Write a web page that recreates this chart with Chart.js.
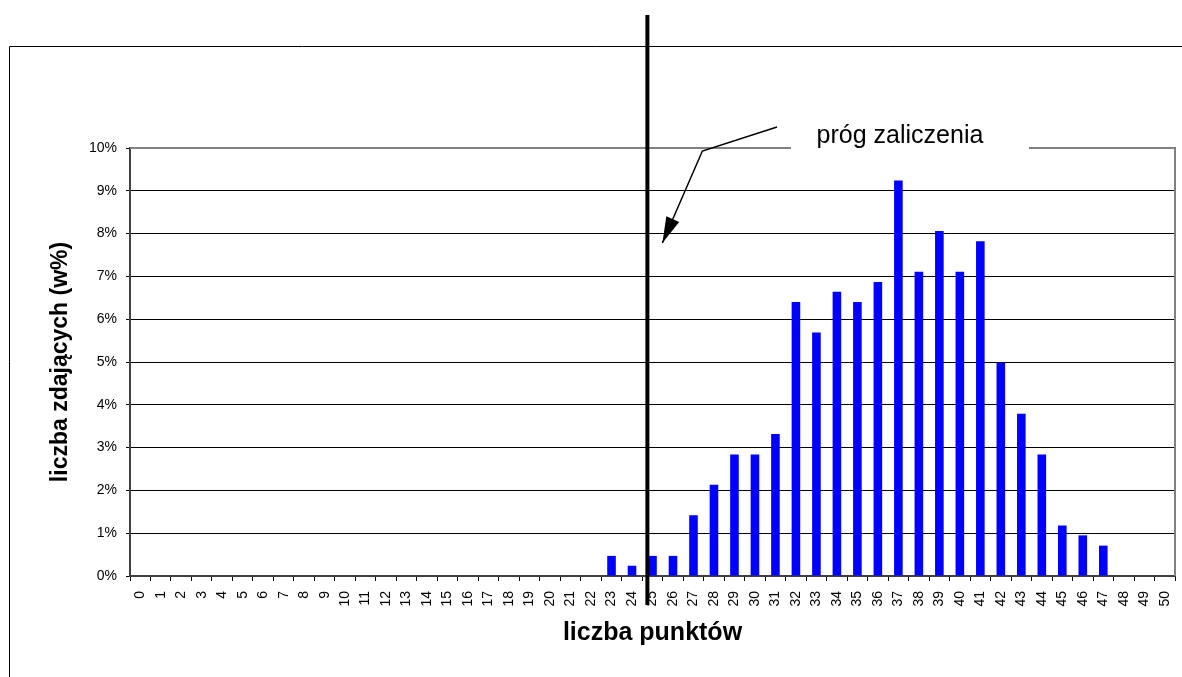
<!DOCTYPE html>
<html>
<head>
<meta charset="utf-8">
<script src="https://cdn.jsdelivr.net/npm/chart.js@4.4.1/dist/chart.umd.min.js"></script>
<style>
  html, body { margin: 0; padding: 0; background: #fff; }
  #wrap { width: 1182px; height: 677px; }
</style>
</head>
<body>
<div id="wrap"><canvas id="histChart" width="1182" height="677"></canvas></div>
<script>
const points = ['0', '1', '2', '3', '4', '5', '6', '7', '8', '9', '10', '11', '12', '13', '14', '15', '16',
    '17', '18', '19', '20', '21', '22', '23', '24', '25', '26', '27', '28', '29', '30', '31', '32', '33',
    '34', '35', '36', '37', '38', '39', '40', '41', '42', '43', '44', '45', '46', '47', '48', '49', '50'];

// % of students per score
const shares = [0, 0, 0, 0, 0, 0, 0, 0, 0, 0, 0, 0, 0, 0, 0, 0, 0, 0, 0, 0, 0, 0, 0,
    0.47, 0.24, 0.47, 0.47, 1.42, 2.13, 2.84, 2.84, 3.32, 6.40, 5.69, 6.64, 6.40, 6.87,
    9.24, 7.11, 8.06, 7.11, 7.82, 4.98, 3.79, 2.84, 1.18, 0.95, 0.71, 0, 0, 0];

const yTicks = [0, 1, 2, 3, 4, 5, 6, 7, 8, 9, 10];

const thresholdPos = 24.75;   // pass mark line sits just left of 25
const thresholdLabel = 'próg zaliczenia';

const FONT = '"Liberation Sans", Arial, sans-serif';

const overlay = {
    id: 'overlay',
    afterDraw(chart) {
        const { ctx, chartArea: a, scales: { x } } = chart;
        ctx.save();

        // outer frame
        ctx.strokeStyle = '#000';
        ctx.lineWidth = 1;
        ctx.beginPath();
        ctx.moveTo(9.5, 677);
        ctx.lineTo(9.5, 46.5);
        ctx.lineTo(1182, 46.5);
        ctx.stroke();

        // plot area border (top / right)
        ctx.strokeStyle = '#808080';
        ctx.lineWidth = 2;
        ctx.beginPath();
        ctx.moveTo(a.left, a.top);
        ctx.lineTo(a.right, a.top);
        ctx.lineTo(a.right, a.bottom);
        ctx.stroke();

        // threshold line
        const tx = x.getPixelForValue(thresholdPos);
        ctx.strokeStyle = '#000';
        ctx.lineWidth = 4;
        ctx.beginPath();
        ctx.moveTo(tx, 15);
        ctx.lineTo(tx, 605);
        ctx.stroke();

        // label box + text
        ctx.fillStyle = '#fff';
        ctx.fillRect(791, 108, 238, 46);
        ctx.fillStyle = '#000';
        ctx.font = '25px ' + FONT;
        ctx.textAlign = 'center';
        ctx.textBaseline = 'alphabetic';
        ctx.fillText(thresholdLabel, 900, 143);

        // arrow
        const tip = { x: tx + 15, y: 243 };
        const knee = { x: tx + 55, y: 151 };
        ctx.lineWidth = 1.5;
        ctx.beginPath();
        ctx.moveTo(777, 127);
        ctx.lineTo(knee.x, knee.y);
        ctx.lineTo(tip.x, tip.y);
        ctx.stroke();
        const ang = Math.atan2(tip.y - knee.y, tip.x - knee.x);
        const len = 26, half = 7;
        const bx = tip.x - len * Math.cos(ang), by = tip.y - len * Math.sin(ang);
        ctx.beginPath();
        ctx.moveTo(tip.x, tip.y);
        ctx.lineTo(bx + half * Math.sin(ang), by - half * Math.cos(ang));
        ctx.lineTo(bx - half * Math.sin(ang), by + half * Math.cos(ang));
        ctx.closePath();
        ctx.fill();

        ctx.restore();
    }
};

const ctxHist = document.getElementById('histChart').getContext('2d');
const histChart = new Chart(ctxHist, {
    type: 'bar',
    data: {
        labels: points,
        datasets: [{
            label: 'liczba zdających',
            data: shares,
            backgroundColor: '#0000ff',
            categoryPercentage: 1,
            barPercentage: 0.42
        }]
    },
    options: {
        responsive: false,
        animation: false,
        layout: {
            padding: { top: 148, right: 7, left: 0, bottom: 0 }
        },
        scales: {
            x: {
                afterFit: function (scale) {
                    scale.height = 101;
                    scale.paddingRight = 0;
                },
                grid: {
                    display: true,
                    drawOnChartArea: false,
                    drawTicks: true,
                    tickLength: 5,
                    tickColor: '#000',
                    offset: true
                },
                border: { display: true, color: '#404040', width: 2 },
                ticks: {
                    autoSkip: false,
                    minRotation: 90,
                    maxRotation: 90,
                    padding: 10,
                    color: '#000',
                    font: { family: FONT, size: 14 }
                },
                title: {
                    display: true,
                    text: 'liczba punktów',
                    color: '#000',
                    font: { family: FONT, size: 25, weight: 'bold' },
                    padding: { top: 0, bottom: 29 }
                }
            },
            y: {
                min: 0,
                max: 10,
                afterFit: function (scale) { scale.width = 130; },
                afterBuildTicks: function (scale) {
                    scale.ticks = yTicks.map(v => ({ value: v }));
                },
                grid: {
                    color: function (c) { return c.tick && c.tick.value === 10 ? 'rgba(0,0,0,0)' : '#000'; },
                    lineWidth: 1,
                    tickLength: 4,
                    tickColor: '#000'
                },
                border: { display: true, color: '#404040', width: 2 },
                ticks: {
                    padding: 9,
                    color: '#000',
                    font: { family: FONT, size: 14 },
                    callback: function (v) { return v + '%'; }
                },
                title: {
                    display: true,
                    text: 'liczba zdających (w%)',
                    color: '#000',
                    font: { family: FONT, size: 23, weight: 'bold' },
                    padding: { top: 47, bottom: 0 }
                }
            }
        },
        plugins: {
            legend: { display: false },
            tooltip: { enabled: false }
        }
    },
    plugins: [overlay]
});
</script>
</body>
</html>
